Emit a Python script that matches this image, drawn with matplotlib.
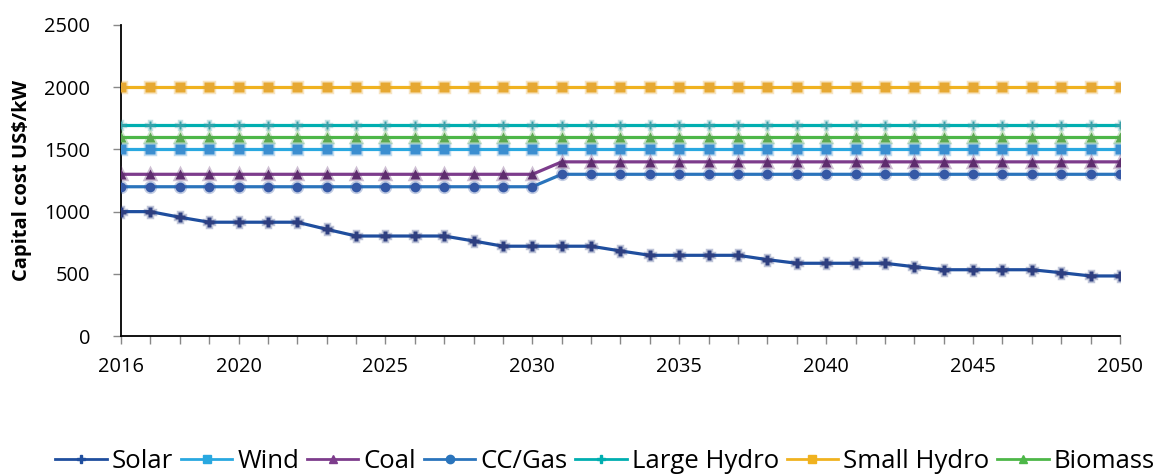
import numpy as np
import matplotlib
matplotlib.use('Agg')
import matplotlib.pyplot as plt
from matplotlib.colors import to_rgba

plt.rcParams['font.family'] = ['Open Sans', 'DejaVu Sans']

years = list(range(2016, 2051))
labelled_years = [2016, 2020, 2025, 2030, 2035, 2040, 2045, 2050]

solar = [1000, 1000, 955, 915, 915, 915, 915, 858, 804, 804, 804, 804,
         764, 722, 722, 722, 722, 684, 649, 649, 649, 649, 614, 585,
         585, 585, 585, 557, 533, 533, 533, 533, 509, 483, 483]
wind = [1500] * 35
coal = [1300] * 15 + [1400] * 20
cc_gas = [1200] * 15 + [1300] * 20
large_hydro = [1700] * 35
small_hydro = [2000] * 35
biomass = [1600] * 35

series = [
    ('Solar', solar, '#1f4e9e', '#2e3f80', 'P', 7),
    ('Wind', wind, '#29a8e0', '#3b8ed0', 's', 7),
    ('Coal', coal, '#7d3c8c', '#5e2d6e', '^', 7),
    ('CC/Gas', cc_gas, '#2a74bc', '#3558a5', 'o', 7),
    ('Large Hydro', large_hydro, '#00aeb0', '#3ba0a8', 'P', 6),
    ('Small Hydro', small_hydro, '#f0b21f', '#e6a833', 's', 7),
    ('Biomass', biomass, '#4db748', '#5ba850', '^', 7),
]

fig = plt.figure(figsize=(11.57, 4.76), dpi=100)
ax = fig.add_axes([0.1046, 0.294, 0.8634, 0.6535])

handles = []
for name, vals, lc, mc, mk, ms in series:
    ax.plot(years, vals, color=lc, lw=2.3, zorder=2)
    ax.plot(years, vals, ls='none', marker=mk, ms=ms, mfc=mc,
            mec=to_rgba(mc, 0.3), mew=2.5, zorder=3)
    h, = ax.plot([], [], color=lc, lw=2.0, marker=mk, ms=6, mfc=lc, mec=lc,
                 label=name)
    handles.append(h)

ax.set_xlim(2016, 2050)
ax.set_ylim(0, 2500)
ax.set_yticks(np.arange(0, 2501, 500))
ax.set_xticks(years)
ax.set_xticklabels([str(y) if y in labelled_years else '' for y in years])

for s in ['top', 'right']:
    ax.spines[s].set_visible(False)
for s in ['left', 'bottom']:
    ax.spines[s].set_linewidth(1.3)
ax.tick_params(axis='x', direction='out', length=6, width=1, color='#888888',
               labelsize=14.4, pad=9)
ax.tick_params(axis='y', direction='out', length=6, width=1, color='#888888',
               labelsize=14.4, pad=16)

ax.set_ylabel('Capital cost US$/kW', fontsize=14.5, fontweight='bold')
ax.yaxis.set_label_coords(-0.089, 0.5)

fig.legend(handles=handles, loc='center', bbox_to_anchor=(0.523, 0.03), ncol=7,
           frameon=False, fontsize=18.5, handlelength=2.0, handletextpad=0.2,
           columnspacing=0.3, borderaxespad=0)

fig.savefig('out.png', dpi=100)
